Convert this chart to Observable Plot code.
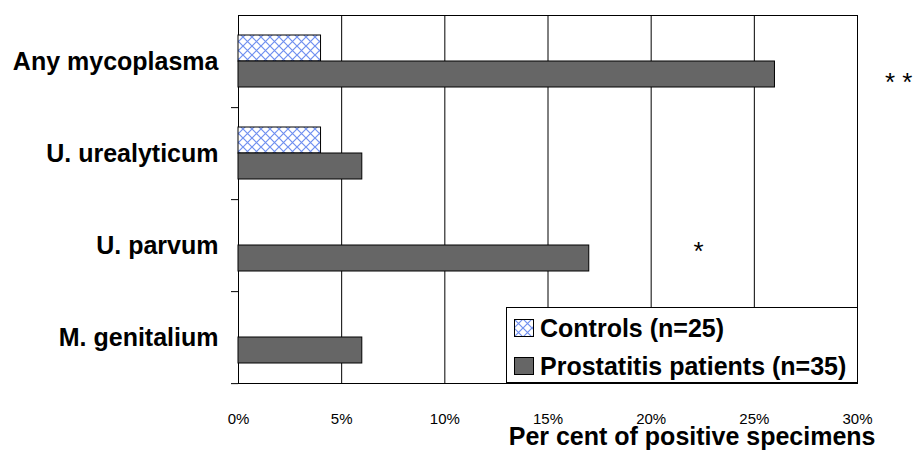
<!DOCTYPE html>
<html><head><meta charset="utf-8">
<script src="https://cdn.jsdelivr.net/npm/d3@7"></script>
<script src="https://cdn.jsdelivr.net/npm/@observablehq/plot@0.6"></script>
<style>
body{margin:0;background:#fff;font-family:"Liberation Sans",Arial,sans-serif;}
#wrap{position:relative;width:915px;height:450px;}
.legend{position:absolute;left:506px;top:307px;width:352px;height:76px;box-sizing:border-box;border:1px solid #000;background:#fff;}
.sw{position:absolute;left:7px;width:20px;height:18px;}
.lab{position:absolute;left:33px;white-space:nowrap;font:bold 25px/25px "Liberation Sans",Arial,sans-serif;color:#000;}
</style></head><body><div id="wrap"></div>
<script>
const categories = ["Any mycoplasma", "U. urealyticum", "U. parvum", "M. genitalium"];
const seriesNames = ["Controls (n=25)", "Prostatitis patients (n=35)"];
const controls = [4, 4, 0, 0];
const prostatitis = [26, 6, 17, 6];
const xTicks = [0, 5, 10, 15, 20, 25, 30];
const annotCategories = ["Any mycoplasma", "U. parvum"];
const annotX = [32.0, 22.3];
const annotLabels = ["* *", "*"];
const xAxisLabel = "Per cent of positive specimens";

const data = categories.flatMap((c, i) => [
  {category: c, series: seriesNames[0], value: controls[i]},
  {category: c, series: seriesNames[1], value: prostatitis[i]}
]);
const annots = annotCategories.map((c, i) => ({category: c, x: annotX[i], label: annotLabels[i]}));

const W = 915, H = 450, mT = 14, mB = 67, mL = 238, mR = 58;
const facetStep = (H - mT - mB) / categories.length;

const chart = Plot.plot({
  width: W, height: H, marginTop: mT, marginBottom: mB, marginLeft: mL, marginRight: mR,
  style: {fontFamily: "'Liberation Sans', Arial, sans-serif", background: "#fff", color: "#000", overflow: "visible"},
  x: {domain: [0, 30]},
  y: {domain: seriesNames, paddingInner: 0, paddingOuter: 0.75, axis: null},
  fy: {domain: categories, padding: 0},
  color: {type: "ordinal", domain: seriesNames, range: ["url(#hatch)", "#666666"]},
  marks: [
    Plot.gridX(xTicks, {stroke: "#000", strokeOpacity: 1, strokeWidth: 1}),
    Plot.frame({anchor: "top", facetAnchor: "top", stroke: "#000"}),
    Plot.frame({anchor: "bottom", facetAnchor: "bottom", stroke: "#000"}),
    Plot.barX(data.filter(d => d.value > 0), {x: "value", y: "series", fy: "category", fill: "series", stroke: "#000", strokeWidth: 1}),
    Plot.text(annots.filter(d => d.label === "* *"), {x: "x", y: () => seriesNames[1], fy: "category", text: "label", fontSize: 26, dy: 8, fill: "#000"}),
    Plot.text(annots.filter(d => d.label === "*"), {x: "x", y: () => seriesNames[1], fy: "category", text: "label", fontSize: 26, dy: -7, fill: "#000"}),
    Plot.axisFy({anchor: "left", tickSize: 0, tickPadding: 20, fontSize: 25, fontWeight: "bold", label: null}),
    Plot.axisFy({anchor: "left", tickSize: 7, tickFormat: () => "", dy: facetStep / 2, label: null, stroke: "#000"}),
    Plot.axisX(xTicks, {anchor: "bottom", tickSize: 0, tickPadding: 30, fontSize: 15, tickFormat: d => d + "%", label: null}),
    Plot.text([xAxisLabel], {frameAnchor: "bottom-right", facetAnchor: "bottom", textAnchor: "end", dx: 18, dy: 61, fontSize: 25, fontWeight: "bold", fill: "#000"})
  ]
});

const defs = d3.select(chart).insert("defs", ":first-child");
const pat = defs.append("pattern").attr("id", "hatch").attr("patternUnits", "userSpaceOnUse")
  .attr("width", 9).attr("height", 9);
pat.append("rect").attr("width", 9).attr("height", 9).attr("fill", "#fff");
pat.append("path").attr("d", "M0,0L9,9M9,0L0,9").attr("stroke", "#6f8ff0").attr("stroke-width", 1.2).attr("fill", "none");

const wrap = document.getElementById("wrap");
wrap.appendChild(chart);

const legend = document.createElement("div");
legend.className = "legend";
const swFills = ["url(#hatch)", "#666666"];
const rowTops = [11, 49];
seriesNames.forEach((name, i) => {
  const sw = document.createElementNS("http://www.w3.org/2000/svg", "svg");
  sw.setAttribute("class", "sw");
  sw.style.top = rowTops[i] + "px";
  sw.setAttribute("width", 20); sw.setAttribute("height", 18);
  const r = document.createElementNS("http://www.w3.org/2000/svg", "rect");
  r.setAttribute("x", 0.5); r.setAttribute("y", 0.5); r.setAttribute("width", 19); r.setAttribute("height", 17);
  r.setAttribute("fill", swFills[i]); r.setAttribute("stroke", "#000");
  sw.appendChild(r);
  legend.appendChild(sw);
  const t = document.createElement("div");
  t.className = "lab";
  t.style.top = (rowTops[i] - 3) + "px";
  t.textContent = name;
  legend.appendChild(t);
});
wrap.appendChild(legend);
</script></body></html>
